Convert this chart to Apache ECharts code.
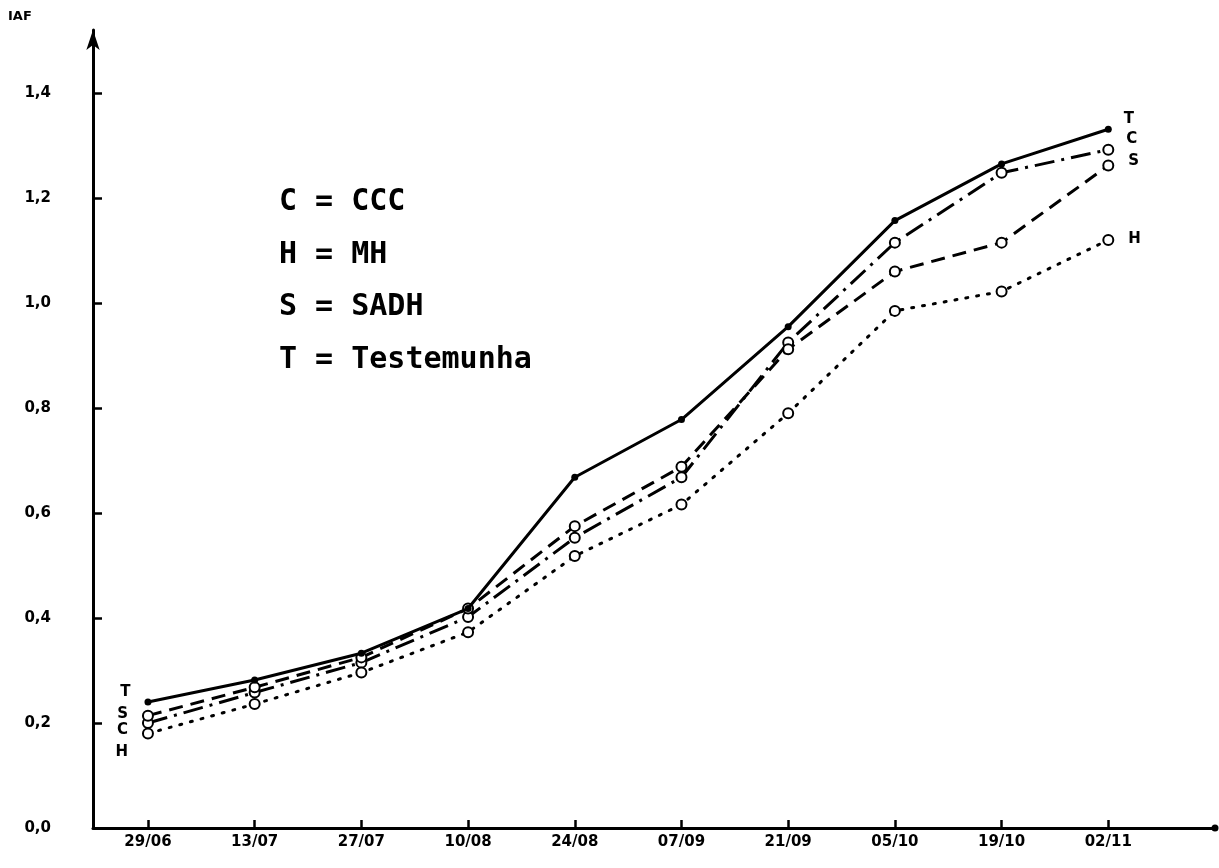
<!DOCTYPE html>
<html>
<head>
<meta charset="utf-8">
<script src="https://cdn.jsdelivr.net/npm/echarts@6/dist/echarts.min.js"></script>
<style>
html,body{margin:0;padding:0;background:#fff;}
#chart{width:1219px;height:868px;}
</style>
</head>
<body>
<div id="chart"></div>
<script>
// ---- data ----
var categories = ['29/06','13/07','27/07','10/08','24/08','07/09','21/09','05/10','19/10','02/11'];
var yTicks = [0, 0.2, 0.4, 0.6, 0.8, 1.0, 1.2, 1.4];
var valuesT = [0.240, 0.282, 0.333, 0.418, 0.668, 0.778, 0.955, 1.157, 1.265, 1.331];
var valuesC = [0.200, 0.258, 0.315, 0.402, 0.553, 0.668, 0.925, 1.115, 1.248, 1.292];
var valuesS = [0.214, 0.268, 0.325, 0.418, 0.575, 0.688, 0.912, 1.060, 1.115, 1.262];
var valuesH = [0.180, 0.236, 0.296, 0.373, 0.518, 0.616, 0.790, 0.985, 1.022, 1.120];
var seriesLetters = ['T', 'C', 'S', 'H'];
var legendLines = ['C = CCC', 'H = MH', 'S = SADH', 'T = Testemunha'];
var yTitle = 'IAF';

var labelFont = {color:'#000', fontFamily:'DejaVu Sans', fontWeight:'bold', fontSize:15};

function buildData(values, letter, startOffset, endOffset) {
  return values.map(function (v, i) {
    var item = {value: [i, v]};
    if (i === 0) {
      item.label = Object.assign({show:true, position:'left', distance:14, formatter: letter, offset:startOffset}, labelFont);
    } else if (i === values.length - 1) {
      item.label = Object.assign({show:true, position:'right', distance:12, formatter: letter, offset:endOffset}, labelFont);
    }
    return item;
  });
}

var xIdx = categories.map(function (c, i) { return i; });

var chart = echarts.init(document.getElementById('chart'), null, {renderer:'canvas'});
var option = {
  backgroundColor:'#fff',
  animation:false,
  grid:{left:93, right:4, top:30, bottom:40, containLabel:false},
  xAxis:{
    type:'value', min:-0.515, max:10.0,
    splitLine:{show:false},
    axisLine:{show:true, onZero:false, lineStyle:{color:'#000', width:3}, symbol:['none','circle'], symbolSize:[7,7]},
    axisTick:{show:true, inside:true, length:8, lineStyle:{color:'#000', width:2.5}, customValues:xIdx},
    axisLabel:{show:true, margin:7, customValues:xIdx, color:'#000', fontFamily:'DejaVu Sans', fontWeight:'bold', fontSize:15,
      formatter:function (v) { var i = Math.round(v); return categories[i] !== undefined ? categories[i] : ''; }}
  },
  yAxis:{
    type:'value', min:0, max:1.52,
    splitLine:{show:false},
    axisLine:{show:true, onZero:false, lineStyle:{color:'#000', width:3}, symbol:['none','arrow'], symbolSize:[10,20]},
    axisTick:{show:true, inside:true, length:9, lineStyle:{color:'#000', width:2.5}, customValues:yTicks},
    axisLabel:{show:true, margin:42, customValues:yTicks, color:'#000', fontFamily:'DejaVu Sans', fontWeight:'bold', fontSize:15,
      formatter:function (v) { return v.toFixed(1).replace('.', ','); }}
  },
  graphic:[
    {type:'text', left:8, top:10, style:{text:yTitle, fill:'#000', font:'bold 13px "DejaVu Sans"'}},
    {type:'text', left:279, top:176, style:{text:legendLines.join('\n'), fill:'#000', font:'bold 30px "DejaVu Sans Mono"', lineHeight:52.5}}
  ],
  series:[
    {name:'T', type:'line', data:buildData(valuesT, seriesLetters[0], [0,-10], [0,-10]),
      symbol:'circle', symbolSize:7, showAllSymbol:true,
      lineStyle:{color:'#000', width:3, type:'solid'}, itemStyle:{color:'#000'}, z:5},
    {name:'C', type:'line', data:buildData(valuesC, seriesLetters[1], [0,7], [0,-11]),
      symbol:'emptyCircle', symbolSize:10, showAllSymbol:true,
      lineStyle:{color:'#000', width:3, type:[20,7,3,7]}, itemStyle:{color:'#000', borderWidth:2.5}, z:4},
    {name:'S', type:'line', data:buildData(valuesS, seriesLetters[2], [0,-2], [2,-4]),
      symbol:'emptyCircle', symbolSize:10, showAllSymbol:true,
      lineStyle:{color:'#000', width:3, type:[14,8]}, itemStyle:{color:'#000', borderWidth:2.5}, z:4},
    {name:'H', type:'line', data:buildData(valuesH, seriesLetters[3], [0,19], [2,-1]),
      symbol:'emptyCircle', symbolSize:10, showAllSymbol:true,
      lineStyle:{color:'#000', width:3, type:[2,9], cap:'round'}, itemStyle:{color:'#000', borderWidth:2.5}, z:4}
  ]
};
chart.setOption(option);
</script>
</body>
</html>
